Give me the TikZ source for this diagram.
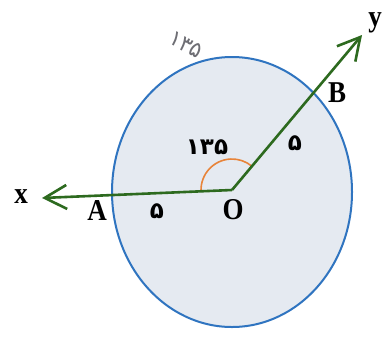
\documentclass[tikz,border=0pt]{standalone}
\usepackage{fontspec}
\setmainfont{Liberation Serif}
\newfontfamily\fafont[Script=Arabic]{DejaVu Sans}
\usetikzlibrary{arrows.meta}
\definecolor{ray}{HTML}{2D6A1F}
\definecolor{rim}{HTML}{2F74C0}
\definecolor{disk}{HTML}{E5EAF1}
\definecolor{angc}{HTML}{E8843A}
\definecolor{hand}{HTML}{6E6E74}
\newcommand{\talltxt}[1]{\scalebox{1}[1.12]{#1}}
\begin{document}
\begin{tikzpicture}[x=1pt,y=-1pt,
  lab/.style={font=\bfseries\fontsize{27}{27}\selectfont, inner sep=0pt},
  fa/.style={font=\fafont\bfseries\fontsize{23}{23}\selectfont, inner sep=0pt},
  rayline/.style={draw=ray, line width=2.6pt, -{Straight Barb[length=22pt,width=24pt]}}]
\useasboundingbox (0,0) rectangle (390,338);
\fill[white] (0,0) rectangle (390,338);
\coordinate (C) at (232,192);
\coordinate (O) at (232,190);
\coordinate (X) at (42,198);
\coordinate (Y) at (362,35);
\filldraw[fill=disk, draw=rim, line width=2pt] (C) ellipse [x radius=120, y radius=135];
\draw[angc, line width=1.6pt] ([shift={(177.6:31)}]O) arc[start angle=177.6, end angle=310.2, radius=31];
\draw[rayline] (O) -- (X);
\draw[rayline] (O) -- (Y);
\node[lab] (xl) at (21,197) {\talltxt{x}};
\node[lab] (yl) at (375,23) {\talltxt{y}};
\node[lab] (Al) at (97,211) {\talltxt{A}};
\node[lab] (Bl) at (337,93) {\talltxt{B}};
\node[lab] (Ol) at (233,210) {\talltxt{O}};
\node[fa] (oa) at (157,211) {۵};
\node[fa] (ob) at (295,143) {۵};
\node[fa] (ang) at (207,147) {۱۳۵};
\node[font=\fafont\fontsize{22}{22}\selectfont, text=hand, rotate=-28, inner sep=0pt] (hw) at (186,45) {۱۳۵};
\end{tikzpicture}
\end{document}
